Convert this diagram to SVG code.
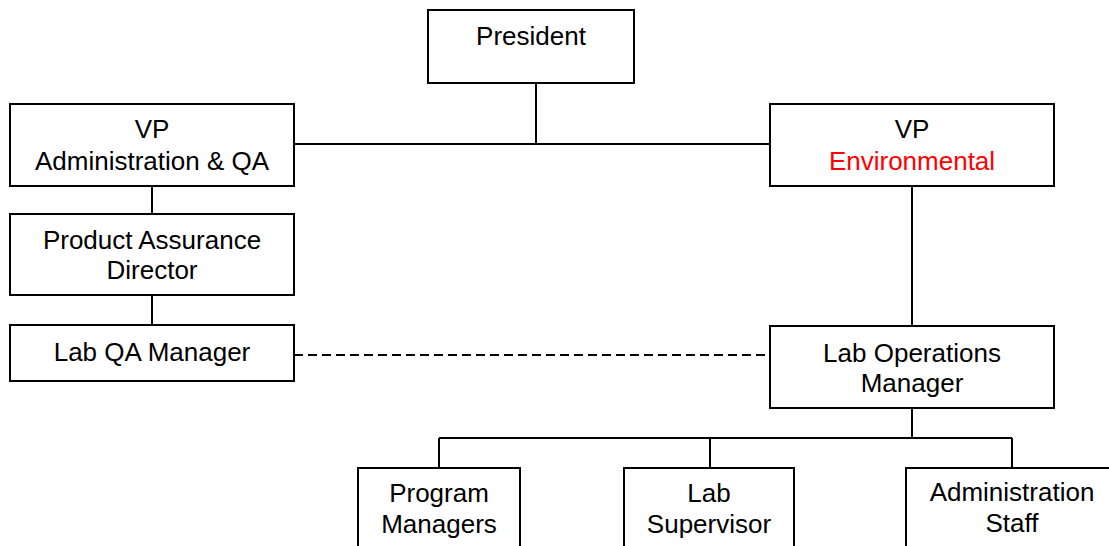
<svg xmlns="http://www.w3.org/2000/svg" width="1109" height="546" viewBox="0 0 1109 546">
  <style>
    .box { fill: #ffffff; stroke: #000000; stroke-width: 2; }
    .link { fill: none; stroke: #000000; stroke-width: 2; }
    .dash { stroke-dasharray: 9 5; }
    text { font-family: "Liberation Sans", Arial, sans-serif; font-size: 26px; fill: #000000; text-anchor: middle; }
    .red { fill: #ff0000; }
  </style>
  <rect width="1109" height="546" fill="#ffffff"/>

  <!-- reporting lines -->
  <g id="connectors">
    <path class="link" d="M536 83 V144 M294 144 H770"/>
    <path class="link" d="M152 186 V214 M152 295 V325"/>
    <path class="link" d="M912 186 V326"/>
    <path class="link dash" d="M294 355 H770"/>
    <path class="link" d="M912 408 V438 M439 438 H1012 M439 438 V468 M710 438 V468 M1012 438 V468"/>
  </g>

  <g id="president">
    <rect class="box" x="428" y="10" width="206" height="73"/>
    <text x="531" y="45">President</text>
  </g>

  <g id="vp-admin">
    <rect class="box" x="10" y="104" width="284" height="82"/>
    <text x="152" y="138">VP</text>
    <text x="152" y="170">Administration &amp; QA</text>
  </g>

  <g id="vp-env">
    <rect class="box" x="770" y="104" width="284" height="82"/>
    <text x="912" y="138">VP</text>
    <text x="912" y="170" class="red">Environmental</text>
  </g>

  <g id="pa-director">
    <rect class="box" x="10" y="214" width="284" height="81"/>
    <text x="152" y="249">Product Assurance</text>
    <text x="152" y="279">Director</text>
  </g>

  <g id="lab-qa">
    <rect class="box" x="10" y="325" width="284" height="56"/>
    <text x="152" y="361">Lab QA Manager</text>
  </g>

  <g id="lab-ops">
    <rect class="box" x="770" y="326" width="284" height="82"/>
    <text x="912" y="362">Lab Operations</text>
    <text x="912" y="392">Manager</text>
  </g>

  <g id="program-managers">
    <rect class="box" x="358" y="468" width="162" height="90"/>
    <text x="439" y="502">Program</text>
    <text x="439" y="533">Managers</text>
  </g>

  <g id="lab-supervisor">
    <rect class="box" x="624" y="468" width="170" height="90"/>
    <text x="709" y="502">Lab</text>
    <text x="709" y="533">Supervisor</text>
  </g>

  <g id="admin-staff">
    <rect class="box" x="906" y="468" width="212" height="90"/>
    <text x="1012" y="501">Administration</text>
    <text x="1012" y="532">Staff</text>
  </g>
</svg>
